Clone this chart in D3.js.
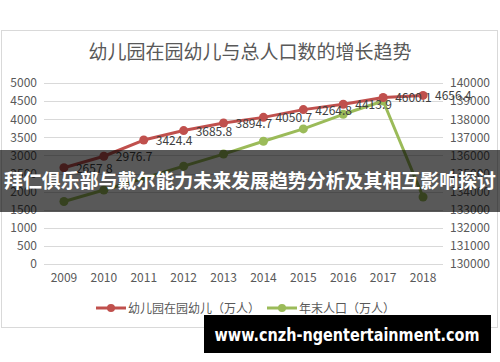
<!DOCTYPE html>
<html>
<head>
<meta charset="UTF-8">
<style>
  body { margin: 0; background: #fff; }
  svg { display: block; font-family: "Noto Sans CJK SC", "Noto Sans", sans-serif; }
</style>
</head>
<body>
<svg id="chart" width="500" height="362"></svg>
<script src="https://d3js.org/d3.v7.min.js"></script>
<script>
const years = ["2009","2010","2011","2012","2013","2014","2015","2016","2017","2018"];
const kids = [2657.8, 2976.7, 3424.4, 3685.8, 3894.7, 4050.7, 4264.8, 4413.9, 4600.1, 4656.4];
const population = [133450, 134091, 134735, 135404, 136072, 136782, 137462, 138271, 139008, 133700];
const leftTicks = [0, 500, 1000, 1500, 2000, 2500, 3000, 3500, 4000, 4500, 5000];
const rightTicks = [130000, 131000, 132000, 133000, 134000, 135000, 136000, 137000, 138000, 139000, 140000];

const titleText = "幼儿园在园幼儿与总人口数的增长趋势";
const legendNames = ["幼儿园在园幼儿（万人）", "年末人口（万人）"];
const bannerText = "拜仁俱乐部与戴尔能力未来发展趋势分析及其相互影响探讨";
const siteText = "www.cnzh-ngentertainment.com";

const red = "#c0504d", green = "#9bbb59", textCol = "#595959";

const svg = d3.select("#chart");

// chart frame
svg.append("rect").attr("x", 1.5).attr("y", 30.5).attr("width", 496).attr("height", 297)
  .attr("fill", "#fff").attr("stroke", "#d9d9d9");

svg.append("text").attr("x", 250).attr("y", 59).attr("text-anchor", "middle")
  .attr("font-size", 19).attr("fill", textCol).text(titleText);

const x = d3.scaleBand().domain(years).range([44, 443]);
const yL = d3.scaleLinear().domain([0, 5000]).range([264, 83]);
const yR = d3.scaleLinear().domain([130000, 140000]).range([264, 83]);
const cx = d => x(d) + x.bandwidth() / 2;

// grid
svg.append("g").selectAll("line").data(leftTicks).join("line")
  .attr("x1", 44).attr("x2", 443)
  .attr("y1", d => Math.round(yL(d)) + 0.5).attr("y2", d => Math.round(yL(d)) + 0.5)
  .attr("stroke", "#d9d9d9");

// left axis
const axL = svg.append("g").attr("transform", "translate(44,0)")
  .call(d3.axisLeft(yL).tickValues(leftTicks).tickSize(0).tickPadding(7).tickFormat(d3.format("d")));
axL.select(".domain").remove();
axL.selectAll("text").attr("font-size", 12).attr("fill", textCol).attr("font-family", "Noto Sans CJK SC");

// right axis
const axR = svg.append("g").attr("transform", "translate(443,0)")
  .call(d3.axisRight(yR).tickValues(rightTicks).tickSize(0).tickPadding(7).tickFormat(d3.format("d")));
axR.select(".domain").remove();
axR.selectAll("text").attr("font-size", 12).attr("fill", textCol).attr("font-family", "Noto Sans CJK SC");

// bottom axis
const axB = svg.append("g").attr("transform", "translate(0,264)")
  .call(d3.axisBottom(x).tickSize(0).tickPadding(9));
axB.select(".domain").remove();
axB.selectAll("text").attr("font-size", 12).attr("fill", textCol).attr("font-family", "Noto Sans CJK SC");

// series
function series(vals, scale, color) {
  const pts = vals.map((v, i) => [cx(years[i]), scale(v)]);
  svg.append("path").attr("d", d3.line()(pts)).attr("fill", "none")
    .attr("stroke", color).attr("stroke-width", 3).attr("stroke-linejoin", "round");
  svg.append("g").selectAll("circle").data(pts).join("circle")
    .attr("cx", d => d[0]).attr("cy", d => d[1]).attr("r", 4.5).attr("fill", color);
  return pts;
}
series(population, yR, green);
const redPts = series(kids, yL, red);

svg.append("g").selectAll("text").data(kids).join("text")
  .attr("x", (d, i) => redPts[i][0] + 12).attr("y", (d, i) => redPts[i][1] + 5)
  .attr("font-size", 12).attr("fill", "#404040").text(d => d3.format(".1f")(d));

// legend
const leg = [[96, 128, red, legendNames[0]], [267, 299, green, legendNames[1]]];
leg.forEach(([x0, tx, c, name]) => {
  svg.append("line").attr("x1", x0).attr("x2", x0 + 30).attr("y1", 308).attr("y2", 308)
    .attr("stroke", c).attr("stroke-width", 3);
  svg.append("circle").attr("cx", x0 + 15).attr("cy", 308).attr("r", 4).attr("fill", c);
  svg.append("text").attr("x", tx).attr("y", 312.5).attr("font-size", 12)
    .attr("fill", textCol).text(name);
});

// overlay banner
svg.append("rect").attr("x", 0).attr("y", 150).attr("width", 500).attr("height", 62)
  .attr("fill", "rgba(0,0,0,0.65)");
svg.append("text").attr("x", 250).attr("y", 188).attr("text-anchor", "middle")
  .attr("font-size", 19).attr("font-weight", "bold").attr("fill", "#fff")
  .attr("textLength", 492).attr("lengthAdjust", "spacingAndGlyphs").text(bannerText);

// site watermark
svg.append("rect").attr("x", 204).attr("y", 315).attr("width", 287).attr("height", 38)
  .attr("fill", "#000");
svg.append("text").attr("x", 347).attr("y", 341).attr("text-anchor", "middle")
  .attr("font-size", 18).attr("font-weight", "bold").attr("fill", "#fff")
  .attr("font-family", "DejaVu Sans")
  .attr("textLength", 265).attr("lengthAdjust", "spacingAndGlyphs").text(siteText);
</script>
</body>
</html>
